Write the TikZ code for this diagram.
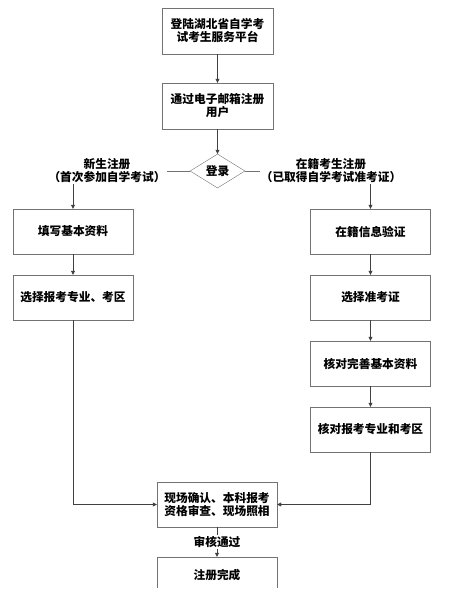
\documentclass[tikz,border=0pt]{standalone}
\usepackage{fontspec}
\newfontfamily\cjk{Noto Sans CJK SC}
\usetikzlibrary{shapes.geometric,arrows.meta}

\begin{document}
\begin{tikzpicture}[x=1pt,y=1pt,yscale=-1,xscale=1,
  box/.style={draw=black!55,minimum width=120pt,minimum height=45pt,inner sep=1pt,align=center},
  lbl/.style={inner sep=1pt,align=center},
  link/.style={draw=black!75,-{Triangle[length=4pt,width=4pt]}},
  font=\cjk\bfseries\fontsize{11.7}{13}\selectfont]
\useasboundingbox (0,0) rectangle (450,608);

% Top boxes
\node[box,minimum width=111pt,minimum height=46pt] (portal) at (217.5,31) {登陆湖北省自学考\\试考生服务平台};
\node[box,minimum width=111pt,minimum height=46pt] (email) at (217.5,106) {通过电子邮箱注册\\用户};
% Decision
\node[draw=black!55,diamond,aspect=1.6,minimum width=55pt,minimum height=34pt,inner sep=0pt] (login) at (217.5,171) {登录};
% Branch labels
\node[lbl] (newlbl) at (107,171) {新生注册\\（首次参加自学考试）};
\node[lbl] (oldlbl) at (331,171) {在籍考生注册\\（已取得自学考试准考证）};

% Left branch
\node[box] (newfill) at (73,231.5) {填写基本资料};
\node[box] (newpick) at (73,297.5) {选择报考专业、考区};
% Right branch
\node[box] (oldcheck) at (370.5,231.5) {在籍信息验证};
\node[box] (oldcard) at (370.5,297.5) {选择准考证};
\node[box] (oldinfo) at (370.5,363.5) {核对完善基本资料};
\node[box] (oldpick) at (370.5,429.5) {核对报考专业和考区};

% Bottom
\node[box] (confirm) at (217,504.5) {现场确认、本科报考\\资格审查、现场照相};
\node[box,draw=none,minimum height=36pt] (done) at (217,575) {注册完成};
\draw[draw=black!55] ([yshift=-5pt]done.south west) -- (done.north west) -- (done.north east) -- ([yshift=-5pt]done.south east);

% Connectors
\draw[link] (portal) -- (email);
\draw[link] (email) -- (login);
\draw[draw=black!55] (login.west) -- (newlbl.east);
\draw[draw=black!55] (login.east) -- (oldlbl.west);
\draw[link] (newlbl.south -| newfill.north) -- (newfill.north);
\draw[link] (oldlbl.south -| oldcheck.north) -- (oldcheck.north);
\draw[link] (newfill) -- (newpick);
\draw[link] (oldcheck) -- (oldcard);
\draw[link] (oldcard) -- (oldinfo);
\draw[link] (oldinfo) -- (oldpick);
\draw[link] (newpick.south) -- (newpick |- confirm) -- (confirm.west);
\draw[link] (oldpick.south) -- (oldpick |- confirm) -- (confirm.east);
\draw[link] (confirm) -- node[fill=white,inner sep=1pt] (pass) {审核通过} (done);

\end{tikzpicture}
\end{document}
